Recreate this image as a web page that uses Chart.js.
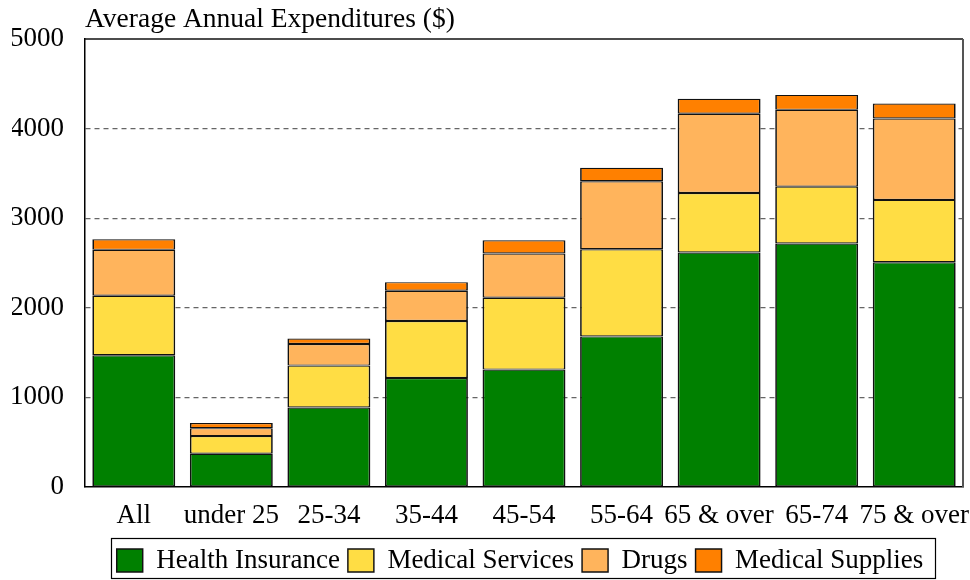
<!DOCTYPE html>
<html>
<head>
<meta charset="utf-8">
<script src="https://cdn.jsdelivr.net/npm/chart.js@4/dist/chart.umd.min.js"></script>
<style>
  html, body { margin: 0; padding: 0; background: #fff; }
  #wrap { width: 970px; height: 580px; }
</style>
</head>
<body>
<div id="wrap"><canvas id="c" width="970" height="580"></canvas></div>
<script>
const categories = ['All', 'under 25', '25-34', '35-44', '45-54', '55-64', '65 & over', '65-74', '75 & over'];
const healthInsurance = [1470, 371, 887, 1217, 1310, 1681, 2617, 2717, 2509];
const medicalServices = [665, 197, 468, 635, 802, 973, 665, 635, 695];
const drugs = [512, 89, 241, 338, 494, 759, 883, 857, 908];
const medicalSupplies = [118, 56, 60, 96, 148, 150, 167, 167, 167];
const seriesNames = ['Health Insurance', 'Medical Services', 'Drugs', 'Medical Supplies'];
const yTicks = [0, 1000, 2000, 3000, 4000, 5000];
const titleText = 'Average Annual Expenditures ($)';

const FONT = "'Liberation Serif', 'Times New Roman', serif";
const FS = 27;
const colors = ['#008000', '#FFDD44', '#FFB45C', '#FF8000'];
const seriesData = [healthInsurance, medicalServices, drugs, medicalSupplies];

const frame = {
  id: 'frame',
  afterLayout(chart) {
    if (chart.legend) { chart.legend.left -= 4; chart.legend.right -= 4; }
  },
  afterDraw(chart) {
    const {ctx, chartArea: a} = chart;
    ctx.save();
    ctx.lineWidth = 1.5;
    ctx.strokeStyle = '#111';
    ctx.beginPath();
    ctx.moveTo(a.left, a.top);
    ctx.lineTo(a.right, a.top);
    ctx.stroke();
    ctx.strokeStyle = '#555';
    ctx.lineWidth = 2;
    ctx.beginPath();
    ctx.moveTo(a.right, a.top);
    ctx.lineTo(a.right, a.bottom);
    ctx.stroke();
    // legend border
    const hb = chart.legend && chart.legend.legendHitBoxes;
    if (hb && hb.length) {
      const left = Math.min(...hb.map(h => h.left)) - 6;
      const right = Math.max(...hb.map(h => h.left + h.width)) + 11;
      const top = Math.min(...hb.map(h => h.top)) - 9;
      const bottom = Math.min(Math.max(...hb.map(h => h.top + h.height)) + 4, 579);
      ctx.strokeStyle = '#000';
      ctx.lineWidth = 1.2;
      ctx.strokeRect(Math.round(left) + 0.5, Math.round(top) + 0.5, Math.round(right - left), Math.round(bottom - top));
    }
    ctx.restore();
  }
};

new Chart(document.getElementById('c'), {
  type: 'bar',
  data: {
    labels: categories,
    datasets: seriesNames.map((name, i) => ({
      label: name,
      data: seriesData[i],
      backgroundColor: colors[i],
      borderColor: '#111',
      borderWidth: { top: 1.2, bottom: 1.2, left: 1.7, right: 1.7 },
      borderSkipped: false,
      barPercentage: 0.85,
      categoryPercentage: 1.0
    }))
  },
  options: {
    responsive: false,
    animation: false,
    devicePixelRatio: 1,
    layout: { padding: { left: 12, right: 7, top: 0, bottom: -4 } },
    plugins: {
      title: {
        display: true,
        text: titleText,
        align: 'start',
        fullSize: false,
        color: '#000',
        font: { family: FONT, size: 27.5, weight: 'normal' },
        padding: { top: 3, bottom: 3 }
      },
      legend: {
        position: 'bottom',
        fullSize: false,
        labels: {
          color: '#000',
          font: { family: FONT, size: FS },
          boxWidth: 26,
          boxHeight: 23,
          padding: 8
        }
      },
      tooltip: { enabled: false }
    },
    scales: {
      x: {
        stacked: true,
        afterFit(scale) { scale.paddingLeft = 0; scale.paddingRight = 0; scale.height = 52; },
        grid: { display: false, drawTicks: false },
        border: { display: true, color: '#000', width: 1.5 },
        ticks: { color: '#000', font: { family: FONT, size: FS }, padding: 13, maxRotation: 0, autoSkip: false }
      },
      y: {
        stacked: true,
        min: 0,
        max: 5000,
        afterBuildTicks(scale) { scale.ticks = yTicks.map(v => ({ value: v })); },
        afterFit(scale) { scale.width = 73; },
        grid: {
          drawTicks: false,
          color: ctx => (ctx.tick && ctx.tick.value > 0 && ctx.tick.value < 5000) ? '#666' : 'rgba(0,0,0,0)',
          lineWidth: 1.2
        },
        border: { display: true, color: '#000', width: 1.5, dash: [5, 4] },
        ticks: { color: '#000', font: { family: FONT, size: FS }, padding: 21, callback: v => String(v) }
      }
    }
  },
  plugins: [frame]
});
</script>
</body>
</html>
